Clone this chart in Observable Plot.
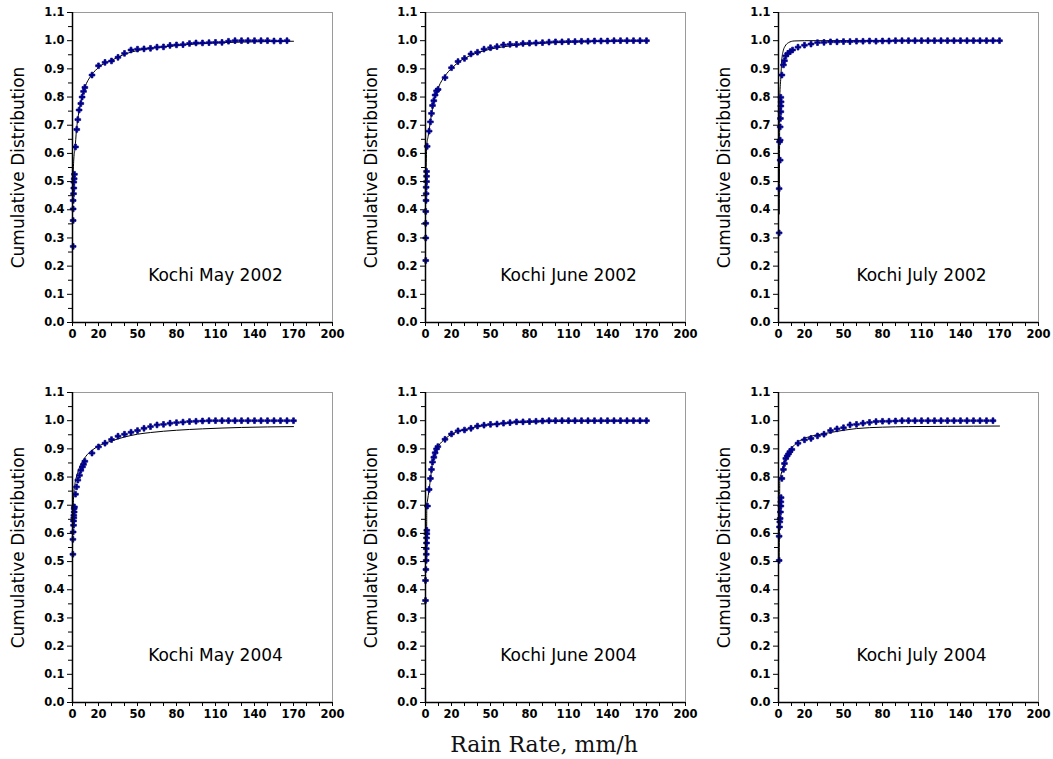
<!DOCTYPE html>
<html>
<head>
<meta charset="utf-8">
<script src="https://cdn.jsdelivr.net/npm/d3@7"></script>
<script src="https://cdn.jsdelivr.net/npm/@observablehq/plot@0.6"></script>
<style>
  html, body { margin: 0; padding: 0; background: #fff; }
  #fig { position: relative; width: 1053px; height: 759px; overflow: hidden; background: #fff; }
  .panel { position: absolute; }
  #xlabel {
    position: absolute; left: -6px; width: 1100px; top: 733px;
    text-align: center; font-family: "DejaVu Serif", serif; font-size: 22px; line-height: 24px; color: #111;
  }
</style>
</head>
<body>
<div id="fig"></div>
<script>
// Axis ticks
const xTickLabels = [0, 20, 50, 80, 110, 140, 170, 200];
const xMinorTicks = [0, 10, 20, 30, 40, 50, 60, 70, 80, 90, 100, 110, 120, 130, 140, 150, 160, 170, 180, 190, 200];
const yTicks = [0, 0.1, 0.2, 0.3, 0.4, 0.5, 0.6, 0.7, 0.8, 0.9, 1.0, 1.1];
const yMinorTicks = [0.05, 0.15, 0.25, 0.35, 0.45, 0.55, 0.65, 0.75, 0.85, 0.95, 1.05];

// Measured cumulative distributions (rain rate in mm/h)
const may2002Rate = [0.5,0.5,0.5,0.5,0.8,1,1,1.3,1.5,2.3,3.3,4.1,5.1,6.4,7.4,8.5,9.5,
  15,20,25,30,35,40,45,50,55,60,65,70,75,80,85,90,95,100,105,110,115,120,125,130,135,140,145,150,155,160,165,170];
const may2002Cdf = [0.27,0.362,0.403,0.433,0.457,0.477,0.498,0.51,0.526,0.623,0.685,0.72,0.754,0.777,0.80,0.82,0.834,
  0.878,0.911,0.923,0.928,0.941,0.955,0.967,0.97,0.971,0.973,0.977,0.978,0.983,0.985,0.986,0.99,0.992,0.992,0.993,0.994,0.994,0.998,1.0,1.0,1.0,1.0,1.0,1.0,0.999,0.999,1.0];

const june2002Rate = [0.2,0.2,0.2,0.2,0.4,0.5,0.5,0.8,0.8,0.8,1.3,2.8,3.8,4.6,5.4,6.4,7.4,8.5,9.7,
  15,20,25,30,35,40,45,50,55,60,65,70,75,80,85,90,95,100,105,110,115,120,125,130,135,140,145,150,155,160,165,170];
const june2002Cdf = [0.22,0.30,0.352,0.394,0.433,0.457,0.48,0.50,0.519,0.536,0.625,0.679,0.712,0.742,0.77,0.787,0.807,0.822,0.827,
  0.869,0.904,0.926,0.937,0.953,0.959,0.97,0.975,0.979,0.985,0.987,0.987,0.99,0.991,0.992,0.993,0.995,0.996,0.996,0.997,0.997,0.998,0.998,0.999,0.999,0.999,1,1,1,1,1,1];

const july2002Rate = [0.5,0.5,1.3,0.8,1.3,1.3,1.5,1.8,1.8,2,1.8,2.6,3.8,4.6,5.6,7.2,9,10.8,
  15,20,25,30,35,40,45,50,55,60,65,70,75,80,85,90,95,100,105,110,115,120,125,130,135,140,145,150,155,160,165,170];
const july2002Cdf = [0.318,0.475,0.576,0.641,0.647,0.694,0.724,0.748,0.768,0.783,0.799,0.878,0.914,0.929,0.946,0.955,0.961,0.967,
  0.977,0.984,0.988,0.993,0.994,0.996,0.996,0.997,0.997,0.998,0.998,0.999,0.998,0.999,0.999,1,1,1,1,1,1,1,1,1,1,1,1,1,1,1,1,1];

const may2004Rate = [0.3,0.3,0.5,0.8,0.8,1,1,1.3,1.3,1.5,2.3,3.1,4.1,5.4,6.4,7.7,8.5,9.5,
  15,20,25,30,35,40,45,50,55,60,65,70,75,80,85,90,95,100,105,110,115,120,125,130,135,140,145,150,155,160,165,170];
const may2004Cdf = [0.526,0.579,0.605,0.629,0.644,0.655,0.664,0.676,0.688,0.694,0.739,0.765,0.789,0.806,0.824,0.836,0.845,0.856,
  0.885,0.907,0.92,0.933,0.945,0.952,0.959,0.965,0.973,0.979,0.985,0.987,0.991,0.993,0.995,0.997,0.998,0.999,1,1,1,1,1,1,1,1,1,1,1,1,1,1];

const june2004Rate = [0,0,0.3,0.5,0.6,0.6,0.8,0.8,1,1,1.5,2.8,3.8,4.6,5.4,6.4,7.4,8.5,9.5,
  15,20,25,30,35,40,45,50,55,60,65,70,75,80,85,90,95,100,105,110,115,120,125,130,135,140,145,150,155,160,165,170];
const june2004Cdf = [0.362,0.433,0.472,0.504,0.526,0.546,0.566,0.584,0.599,0.611,0.697,0.756,0.795,0.827,0.853,0.87,0.886,0.90,0.908,
  0.934,0.953,0.964,0.967,0.973,0.981,0.984,0.987,0.988,0.991,0.993,0.996,0.996,0.997,0.998,0.999,1,1,1,1,1,1,1,1,1,1,1,1,1,1,1,1];

const july2004Rate = [0.5,0.5,0.8,1,1.3,1.5,1.8,1.8,2,2.6,3.8,4.6,5.6,6.7,7.7,8.7,10.3,
  15,20,25,30,35,40,45,50,55,60,65,70,75,80,85,90,95,100,105,110,115,120,125,130,135,140,145,150,155,160,165,170];
const july2004Cdf = [0.504,0.59,0.623,0.641,0.653,0.676,0.697,0.712,0.727,0.795,0.827,0.848,0.866,0.875,0.882,0.89,0.898,
  0.92,0.932,0.937,0.946,0.952,0.965,0.971,0.975,0.985,0.987,0.991,0.994,0.997,0.998,0.998,0.999,1,1,1,1,1,1,1,1,1,1,1,1,1,1,1];

// Fitted distribution curves
const may2002FitRate = [0.3,1,2,3,4,5,7,10,15,20,30,40,50,70,100,130,170];
const may2002Fit     = [0.5,0.58,0.62,0.68,0.72,0.75,0.795,0.84,0.88,0.905,0.93,0.952,0.965,0.978,0.99,0.995,0.998];

const june2002FitRate = [0.5,1,2,3,4,5,7,10,15,20,25,30,40,50,70,100,130,170];
const june2002Fit     = [0.54,0.63,0.66,0.69,0.72,0.75,0.795,0.835,0.875,0.902,0.922,0.937,0.957,0.97,0.984,0.993,0.997,0.999];

const july2002FitRate = [0.6,0.8,1,1.8,2.5,3.8,5,7.7,12,20,50,100,170];
const july2002Fit     = [0.385,0.6,0.8,0.87,0.93,0.967,0.98,0.993,0.999,1,1,1,1];

const may2004FitRate = [0.3,0.6,1,2,3,5,7,10,15,20,30,40,50,60,80,100,130,170];
const may2004Fit     = [0.62,0.70,0.74,0.78,0.80,0.83,0.85,0.872,0.895,0.91,0.928,0.942,0.952,0.958,0.966,0.971,0.976,0.979];

const june2004FitRate = [0.9,1,1.5,2.8,4,5,7,10,15,20,30,40,50,70,100,170];
const june2004Fit     = [0.61,0.70,0.715,0.756,0.80,0.84,0.88,0.91,0.935,0.952,0.968,0.979,0.986,0.993,0.997,0.999];

const july2004FitRate = [0.5,0.8,1,2,3,4,5,7,10,15,20,30,40,50,60,80,100,130,170];
const july2004Fit     = [0.5,0.65,0.795,0.81,0.83,0.845,0.86,0.882,0.902,0.925,0.937,0.95,0.958,0.966,0.972,0.977,0.979,0.98,0.981];

const panelTitles = ["Kochi May 2002", "Kochi June 2002", "Kochi July 2002",
                     "Kochi May 2004", "Kochi June 2004", "Kochi July 2004"];

const panels = [
  {rate: may2002Rate,  cdf: may2002Cdf,  fitRate: may2002FitRate,  fit: may2002Fit},
  {rate: june2002Rate, cdf: june2002Cdf, fitRate: june2002FitRate, fit: june2002Fit},
  {rate: july2002Rate, cdf: july2002Cdf, fitRate: july2002FitRate, fit: july2002Fit},
  {rate: may2004Rate,  cdf: may2004Cdf,  fitRate: may2004FitRate,  fit: may2004Fit},
  {rate: june2004Rate, cdf: june2004Cdf, fitRate: june2004FitRate, fit: june2004Fit},
  {rate: july2004Rate, cdf: july2004Cdf, fitRate: july2004FitRate, fit: july2004Fit}
];

const fig = document.getElementById("fig");
const colLeft = [72, 425, 778];
const rowTop = [12, 392];
const M = {left: 72, top: 12, right: 15, bottom: 26};
const W = 260, H = 310;
const navy = "#00008b";

panels.forEach((p, i) => {
  const col = i % 3, row = Math.floor(i / 3);
  const pts = p.rate.map((r, k) => ({rate: r, cdf: p.cdf[k]}));
  const fit = p.fitRate.map((r, k) => ({rate: r, cdf: p.fit[k]}));

  const chart = Plot.plot({
    width: M.left + W + M.right,
    height: M.top + H + M.bottom,
    marginLeft: M.left, marginTop: M.top, marginRight: M.right, marginBottom: M.bottom,
    style: {fontFamily: "DejaVu Sans", fontSize: "11.5px", fontWeight: "bold", color: "#000", background: "transparent", overflow: "visible"},
    x: {domain: [0, 200]},
    y: {domain: [0, 1.1]},
    marks: [
      Plot.frame({stroke: "#9a9a9a", strokeWidth: 1}),
      Plot.line(fit, {x: "rate", y: "cdf", stroke: "#000", strokeWidth: 1, curve: "monotone-x"}),
      Plot.dot(pts, {x: "rate", y: "cdf", symbol: "cross", r: 2.4, fill: navy, stroke: navy, strokeWidth: 0.7}),
      Plot.ruleX([0], {stroke: "#000", strokeWidth: 1.5}),
      Plot.ruleY([0], {stroke: "#000", strokeWidth: 1.5}),
      Plot.axisX({ticks: xMinorTicks, tickSize: 4, fill: "none", label: null}),
      Plot.axisX({ticks: xTickLabels, tickSize: 4, tickPadding: 3, tickFormat: d => String(d), label: null}),
      Plot.axisY({ticks: yMinorTicks, tickSize: 4, fill: "none", label: null}),
      Plot.axisY({ticks: yTicks, tickSize: 5, tickPadding: 3, tickFormat: d3.format(".1f"), label: null}),
      Plot.text([panelTitles[i]], {x: 110, y: 0.168, fontSize: 17, fontWeight: "normal", fill: "#000"}),
      Plot.text(["Cumulative Distribution"], {frameAnchor: "left", textAnchor: "middle", rotate: -90, dx: -54, fontSize: 17, fontWeight: "normal", fill: "#000"})
    ]
  });

  const holder = document.createElement("div");
  holder.className = "panel";
  holder.style.left = (colLeft[col] - M.left) + "px";
  holder.style.top = (rowTop[row] - M.top) + "px";
  holder.appendChild(chart);
  fig.appendChild(holder);
});

const xlabel = document.createElement("div");
xlabel.id = "xlabel";
xlabel.textContent = "Rain Rate, mm/h";
fig.appendChild(xlabel);
</script>
</body>
</html>
